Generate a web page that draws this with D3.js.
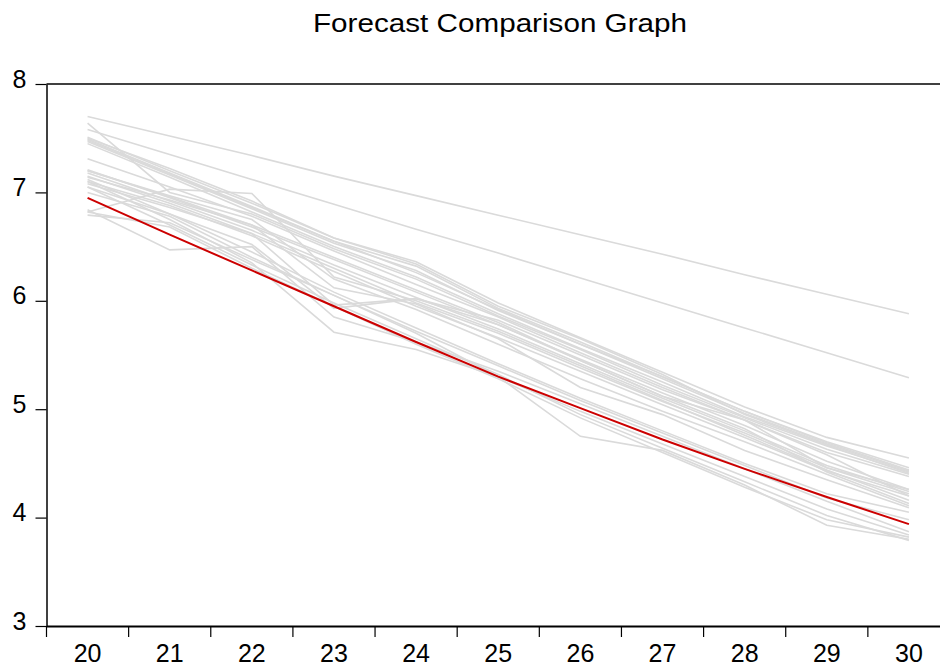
<!DOCTYPE html>
<html>
<head>
<meta charset="utf-8">
<script src="https://cdn.jsdelivr.net/npm/d3@7"></script>
<style>
	body { margin: 0; background: #fff; }
	svg { display: block; font-family: "Liberation Sans", Arial, sans-serif; }
</style>
</head>
<body>
<svg width="940" height="668"></svg>
<script>
// Years on the x axis
const years = [20, 21, 22, 23, 24, 25, 26, 27, 28, 29, 30];

// y tick values
const yTicks = [3, 4, 5, 6, 7, 8];

// Actual / central forecast (red)
const mainSeries = [6.95, 6.61, 6.28, 5.95, 5.62, 5.30, 5.01, 4.72, 4.45, 4.19, 3.94];

// Comparison forecasts (grey)
const g1 = [7.70, 7.52, 7.34, 7.15, 6.97, 6.79, 6.61, 6.43, 6.24, 6.06, 5.88];
const g2 = [7.58, 7.35, 7.12, 6.89, 6.66, 6.44, 6.21, 5.98, 5.75, 5.52, 5.29];
const g3 = [7.51, 7.20, 6.90, 6.58, 6.36, 5.98, 5.66, 5.34, 5.02, 4.74, 4.55];
const g4 = [7.49, 7.18, 6.87, 6.55, 6.32, 5.93, 5.62, 5.30, 4.98, 4.70, 4.46];
const g5 = [7.47, 7.16, 6.85, 6.53, 6.28, 5.91, 5.60, 5.28, 4.96, 4.68, 4.43];
const g6 = [7.45, 7.14, 6.82, 6.50, 6.22, 5.88, 5.56, 5.25, 4.93, 4.66, 4.42];
const g7 = [7.64, 7.00, 6.80, 6.48, 6.20, 5.86, 5.55, 5.22, 4.92, 4.63, 4.40];
const g8 = [7.31, 7.05, 6.78, 6.46, 6.15, 5.85, 5.52, 5.20, 4.90, 4.60, 4.38];
const g9 = [7.21, 6.95, 6.68, 6.38, 6.08, 5.78, 5.46, 5.15, 4.85, 4.52, 4.26];
const g10 = [7.18, 6.92, 6.65, 6.33, 6.03, 5.74, 5.42, 5.10, 4.80, 4.48, 4.24];
const g11 = [7.15, 6.90, 6.62, 6.30, 5.98, 5.70, 5.38, 5.07, 4.78, 4.46, 4.22];
const g12 = [7.10, 6.88, 6.60, 6.27, 5.95, 5.66, 5.35, 5.04, 4.74, 4.43, 4.20];
const g13 = [6.82, 7.03, 6.99, 6.22, 6.00, 5.72, 5.40, 5.08, 4.76, 4.44, 4.16];
const g14 = [7.05, 6.80, 6.52, 5.93, 6.02, 5.78, 5.45, 5.12, 4.82, 4.42, 4.13];
const g15 = [6.84, 6.47, 6.50, 5.85, 5.62, 5.35, 5.05, 4.75, 4.45, 4.15, 3.87];
const g16 = [7.10, 6.75, 6.35, 5.71, 5.55, 5.30, 4.98, 4.68, 4.38, 4.08, 3.84];
const g17 = [6.79, 6.72, 6.38, 6.05, 5.70, 5.30, 4.75, 4.62, 4.30, 3.93, 3.80];
const g18 = [7.05, 6.70, 6.33, 5.98, 5.65, 5.32, 4.95, 4.64, 4.33, 4.02, 3.79];
const g19 = [6.82, 6.68, 6.30, 5.95, 5.60, 5.28, 4.92, 4.60, 4.28, 3.98, 3.82];
const g20 = [7.00, 6.78, 6.40, 6.05, 5.72, 5.40, 5.08, 4.78, 4.48, 4.18, 3.98];
const g21 = [7.12, 6.80, 6.45, 6.08, 5.75, 5.42, 5.10, 4.80, 4.50, 4.22, 4.05];
const g22 = [7.20, 6.97, 6.75, 6.20, 5.92, 5.60, 5.28, 4.98, 4.70, 4.40, 4.11];
const g23 = [7.14, 6.93, 6.70, 6.12, 5.97, 5.65, 5.20, 4.95, 4.62, 4.35, 4.09];
const g24 = [7.08, 6.86, 6.62, 5.96, 6.02, 5.82, 5.50, 5.18, 4.90, 4.58, 4.20];
const g25 = [7.48, 7.17, 6.86, 6.55, 6.26, 5.92, 5.60, 5.30, 4.98, 4.69, 4.44];
const g26 = [7.50, 7.22, 6.92, 6.58, 6.34, 5.95, 5.65, 5.32, 4.95, 4.67, 4.41];
const g27 = [7.20, 6.96, 6.70, 6.40, 6.10, 5.80, 5.45, 5.12, 4.90, 4.46, 4.26];
const greySeries = [g1, g2, g3, g4, g5, g6, g7, g8, g9, g10, g11, g12, g13, g14,
	g15, g16, g17, g18, g19, g20, g21, g22, g23, g24, g25, g26, g27];

const svg = d3.select("svg");

const plotLeft = 46.5,
	plotTop = 84,
	plotBottom = 626,
	plotRight = 950;

const xScale = d3.scaleBand().domain(years).range([plotLeft, plotRight]).padding(0),
	yScale = d3.scaleLinear().domain([3, 8]).range([plotBottom, plotTop]);

const xPos = (i) => xScale(years[i]) + xScale.bandwidth() / 2;

const line = d3
	.line()
	.x((d, i) => xPos(i))
	.y((d) => yScale(d));

// grey forecasts first, red on top
svg.append("g")
	.selectAll("path")
	.data(greySeries)
	.enter()
	.append("path")
	.attr("d", line)
	.attr("fill", "none")
	.attr("stroke", "#dadada")
	.attr("stroke-width", 1.6);

svg.append("path")
	.datum(mainSeries)
	.attr("d", line)
	.attr("fill", "none")
	.attr("stroke", "#cc0000")
	.attr("stroke-width", 2);

// top frame line
svg.append("line")
	.attr("x1", plotLeft)
	.attr("x2", plotRight)
	.attr("y1", yScale(8))
	.attr("y2", yScale(8))
	.attr("stroke", "#000")
	.attr("stroke-width", 1.5);

// y axis
const yAxis = svg
	.append("g")
	.attr("transform", `translate(${plotLeft},0)`)
	.call(
		d3.axisLeft(yScale)
			.tickValues(yTicks)
			.tickFormat(d3.format("d"))
			.tickSize(11)
			.tickSizeOuter(0)
			.tickPadding(9)
	);
yAxis.select(".domain").attr("stroke-width", 1.5);
yAxis.selectAll(".tick line").attr("stroke-width", 1.2);
yAxis.selectAll("text")
	.attr("dy", "3")
	.style("font-size", "25px")
	.style("font-family", "'Liberation Sans', Arial, sans-serif")
	.attr("fill", "#000");

// x axis: labels centred in each year, ticks on the year boundaries
const xAxis = svg
	.append("g")
	.attr("transform", `translate(0,${plotBottom})`)
	.call(d3.axisBottom(xScale).tickSize(0).tickSizeOuter(0));
xAxis.select(".domain").attr("stroke-width", 1.8);
xAxis.selectAll("text")
	.attr("y", 36)
	.attr("dy", "0")
	.style("font-size", "25px")
	.style("font-family", "'Liberation Sans', Arial, sans-serif")
	.attr("fill", "#000");

xAxis.selectAll(".year-tick")
	.data(years)
	.enter()
	.append("line")
	.attr("class", "year-tick")
	.attr("x1", (d) => xScale(d))
	.attr("x2", (d) => xScale(d))
	.attr("y1", 0)
	.attr("y2", 11)
	.attr("stroke", "#000")
	.attr("stroke-width", 1.2);

// title
svg.append("text")
	.attr("x", 313)
	.attr("y", 32)
	.attr("textLength", 374)
	.attr("lengthAdjust", "spacingAndGlyphs")
	.style("font-size", "26px")
	.attr("fill", "#000")
	.text("Forecast Comparison Graph");
</script>
</body>
</html>
